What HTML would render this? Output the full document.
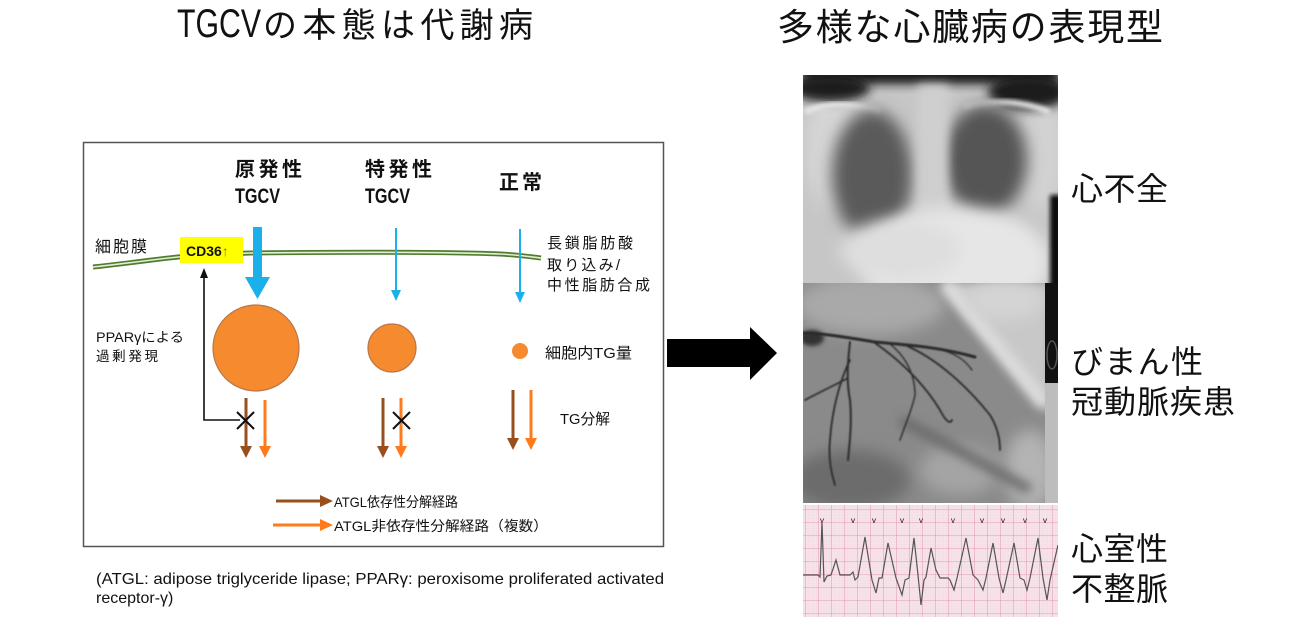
<!DOCTYPE html>
<html><head><meta charset="utf-8">
<style>
html,body{margin:0;padding:0;background:#fff;}
svg{display:block;}
text{font-family:"Liberation Sans","Noto Sans CJK JP",sans-serif;fill:#111;}
.b{font-weight:bold;}
</style></head><body>
<svg width="1300" height="628" viewBox="0 0 1300 628" xmlns="http://www.w3.org/2000/svg">
<defs>
 <filter id="b8" x="-50%" y="-50%" width="200%" height="200%"><feGaussianBlur stdDeviation="8"/></filter>
 <filter id="b5" x="-50%" y="-50%" width="200%" height="200%"><feGaussianBlur stdDeviation="5"/></filter>
 <filter id="b2" x="-50%" y="-50%" width="200%" height="200%"><feGaussianBlur stdDeviation="2"/></filter>
 <filter id="b1" x="-20%" y="-20%" width="140%" height="140%"><feGaussianBlur stdDeviation="0.8"/></filter>
 <clipPath id="cx"><rect x="803" y="75" width="255" height="208"/></clipPath>
 <clipPath id="ca"><rect x="803" y="283" width="255" height="220"/></clipPath>
 <clipPath id="ce"><rect x="803" y="505" width="255" height="112"/></clipPath>
 <pattern id="gmin" x="803" y="505" width="2.6" height="2.6" patternUnits="userSpaceOnUse">
  <path d="M0,0 H2.6 M0,0 V2.6" stroke="#f0cdd9" stroke-width="0.4" fill="none"/>
 </pattern>
 <pattern id="gmaj" x="805" y="509" width="13" height="13" patternUnits="userSpaceOnUse">
  <path d="M0,0 H13 M0,0 V13" stroke="#e29ab4" stroke-width="1" fill="none"/>
 </pattern>
</defs>

<!-- Titles -->
<text font-size="34" y="37"><tspan x="177" font-size="40" textLength="84" lengthAdjust="spacingAndGlyphs">TGCV</tspan><tspan x="263" textLength="270" lengthAdjust="spacing">の本態は代謝病</tspan></text>
<text x="777" y="40" font-size="37" textLength="386" lengthAdjust="spacing">多様な心臓病の表現型</text>

<!-- Left box -->
<rect x="83.5" y="142.5" width="580" height="404" fill="#fff" stroke="#555" stroke-width="1.5"/>

<!-- headings -->
<text class="b" x="235" y="176" font-size="20" textLength="67" lengthAdjust="spacing">原発性</text>
<text class="b" x="235" y="203" font-size="21" textLength="45" lengthAdjust="spacingAndGlyphs">TGCV</text>
<text class="b" x="365" y="176" font-size="20" textLength="67" lengthAdjust="spacing">特発性</text>
<text class="b" x="365" y="203" font-size="21" textLength="45" lengthAdjust="spacingAndGlyphs">TGCV</text>
<text class="b" x="499" y="189" font-size="20" textLength="43" lengthAdjust="spacing">正常</text>

<text x="95" y="252" font-size="16" textLength="52" lengthAdjust="spacing" fill="#222">細胞膜</text>
<text x="547" y="248" font-size="15" textLength="86" lengthAdjust="spacing">長鎖脂肪酸</text>
<text x="547" y="270" font-size="15" textLength="73" lengthAdjust="spacing">取り込み/</text>
<text x="547" y="290" font-size="15" textLength="103" lengthAdjust="spacing">中性脂肪合成</text>

<!-- membrane -->
<path d="M93,267 C140,262 170,257 200,255 L250,253 C350,252 450,252 500,254 C520,255 532,257 541,258" fill="none" stroke="#4f7d30" stroke-width="5"/>
<path d="M93,267 C140,262 170,257 200,255 L250,253 C350,252 450,252 500,254 C520,255 532,257 541,258" fill="none" stroke="#e4edd6" stroke-width="1.6"/>

<!-- CD36 -->
<rect x="180" y="237" width="63" height="26" fill="#ffff00"/>
<text class="b" x="186" y="256" font-size="14">CD36<tspan fill="#b06a10" font-weight="normal">↑</tspan></text>

<!-- blue arrows -->
<polygon points="253,227 262,227 262,277 270,277 257.5,299 245,277 253,277" fill="#1cb0ea"/>
<line x1="396" y1="228" x2="396" y2="292" stroke="#1cb0ea" stroke-width="2"/>
<polygon points="391,290 401,290 396,301" fill="#1cb0ea"/>
<line x1="520" y1="229" x2="520" y2="294" stroke="#1cb0ea" stroke-width="2"/>
<polygon points="515,292 525,292 520,303" fill="#1cb0ea"/>

<!-- feedback line -->
<polyline points="240,420 204,420 204,276" fill="none" stroke="#111" stroke-width="1.6"/>
<polygon points="200,278 208,278 204,268" fill="#111"/>
<text x="96" y="342" font-size="13.5" textLength="88" lengthAdjust="spacingAndGlyphs" fill="#222">PPARγによる</text>
<text x="96" y="361" font-size="13.5" textLength="62" lengthAdjust="spacing" fill="#222">過剰発現</text>

<!-- circles -->
<circle cx="256" cy="348" r="43" fill="#f58a2e" stroke="#b9754a" stroke-width="1.2"/>
<circle cx="392" cy="348" r="24" fill="#f58a2e" stroke="#b9754a" stroke-width="1.2"/>
<circle cx="520" cy="351" r="8" fill="#f58a2e"/>
<text x="545" y="358" font-size="15" textLength="87" lengthAdjust="spacingAndGlyphs">細胞内TG量</text>

<!-- TG arrows -->
<g stroke-width="3">
 <line x1="246" y1="398" x2="246" y2="448" stroke="#97501d"/>
 <line x1="265" y1="400" x2="265" y2="448" stroke="#ff7a1a"/>
 <line x1="383" y1="398" x2="383" y2="448" stroke="#97501d"/>
 <line x1="401" y1="398" x2="401" y2="448" stroke="#ff7a1a"/>
 <line x1="513" y1="390" x2="513" y2="440" stroke="#97501d"/>
 <line x1="531" y1="390" x2="531" y2="440" stroke="#ff7a1a"/>
</g>
<polygon points="240,446 252,446 246,458" fill="#97501d"/>
<polygon points="259,446 271,446 265,458" fill="#ff7a1a"/>
<polygon points="377,446 389,446 383,458" fill="#97501d"/>
<polygon points="395,446 407,446 401,458" fill="#ff7a1a"/>
<polygon points="507,438 519,438 513,450" fill="#97501d"/>
<polygon points="525,438 537,438 531,450" fill="#ff7a1a"/>
<g stroke="#111" stroke-width="2">
 <line x1="237" y1="412" x2="254" y2="429"/><line x1="254" y1="412" x2="237" y2="429"/>
 <line x1="393" y1="412" x2="410" y2="429"/><line x1="410" y1="412" x2="393" y2="429"/>
</g>
<text x="560" y="424" font-size="15" textLength="50" lengthAdjust="spacingAndGlyphs">TG分解</text>

<!-- legend -->
<line x1="276" y1="501" x2="322" y2="501" stroke="#97501d" stroke-width="3"/>
<polygon points="320,495 333,501 320,507" fill="#97501d"/>
<line x1="273" y1="525" x2="322" y2="525" stroke="#ff7a1a" stroke-width="3"/>
<polygon points="320,519 333,525 320,531" fill="#ff7a1a"/>
<text x="334" y="507" font-size="14" textLength="124" lengthAdjust="spacingAndGlyphs">ATGL依存性分解経路</text>
<text x="334" y="531" font-size="14" textLength="214" lengthAdjust="spacingAndGlyphs">ATGL非依存性分解経路（複数）</text>

<!-- footnote -->
<text x="96" y="584" font-size="16" textLength="568" lengthAdjust="spacingAndGlyphs" fill="#333">(ATGL: adipose triglyceride lipase; PPARγ: peroxisome proliferated activated</text>
<text x="96" y="603" font-size="16" fill="#333">receptor-γ)</text>

<!-- Big black arrow -->
<polygon points="667,339 750,339 750,327 777,353 750,380 750,367 667,367" fill="#000"/>

<!-- X-ray -->
<g clip-path="url(#cx)">
 <rect x="803" y="75" width="255" height="208" fill="#c6c6c6"/>
 <ellipse cx="835" cy="150" rx="30" ry="60" fill="#d6d6d6" filter="url(#b8)"/>
 <ellipse cx="1040" cy="150" rx="25" ry="60" fill="#d2d2d2" filter="url(#b8)"/>
 <rect x="803" y="64" width="255" height="20" fill="#151515" filter="url(#b5)"/>
 <ellipse cx="830" cy="88" rx="40" ry="14" fill="#1a1a1a" filter="url(#b5)"/>
 <ellipse cx="1028" cy="92" rx="40" ry="18" fill="#1a1a1a" filter="url(#b5)"/>
 <path d="M805,112 C830,100 860,105 880,112" stroke="#e6e6e6" stroke-width="6" fill="none" filter="url(#b2)"/>
 <path d="M965,108 C995,100 1020,100 1050,112" stroke="#e6e6e6" stroke-width="6" fill="none" filter="url(#b2)"/>
 <ellipse cx="872" cy="175" rx="40" ry="65" fill="#5a5a5a" filter="url(#b8)"/>
 <ellipse cx="985" cy="160" rx="42" ry="55" fill="#555" filter="url(#b8)"/>
 <rect x="918" y="85" width="30" height="130" fill="#cfcfcf" filter="url(#b5)"/>
 <ellipse cx="955" cy="262" rx="95" ry="55" fill="#e6e6e6" filter="url(#b8)"/>
 <ellipse cx="900" cy="250" rx="60" ry="30" fill="#dedede" filter="url(#b8)"/>
 <rect x="1050" y="195" width="12" height="95" fill="#111" filter="url(#b2)"/>
</g>

<!-- Angiogram -->
<g clip-path="url(#ca)">
 <rect x="803" y="283" width="255" height="220" fill="#8a8a8a"/>
 <ellipse cx="870" cy="305" rx="75" ry="30" fill="#a9a9a9" filter="url(#b8)"/>
 <polygon points="940,283 1050,283 1050,415" fill="#c8c8c8" filter="url(#b5)"/>
 <path d="M945,283 L1045,405" stroke="#dedede" stroke-width="14" fill="none" filter="url(#b5)"/>
 <ellipse cx="1005" cy="300" rx="40" ry="20" fill="#d4d4d4" filter="url(#b8)"/>
 <ellipse cx="850" cy="480" rx="60" ry="30" fill="#6c6c6c" filter="url(#b8)"/>
 <ellipse cx="960" cy="470" rx="40" ry="25" fill="#a4a4a4" filter="url(#b8)"/>
 <ellipse cx="1030" cy="470" rx="25" ry="40" fill="#b4b4b4" filter="url(#b8)"/>
 <path d="M900,420 C940,440 980,462 1030,490" stroke="#6a6a6a" stroke-width="10" fill="none" filter="url(#b5)"/>
 <rect x="1045" y="283" width="13" height="100" fill="#111"/>
 <rect x="1045" y="383" width="13" height="120" fill="#bdbdbd"/>
 <ellipse cx="1052" cy="355" rx="5" ry="14" fill="none" stroke="#555" stroke-width="1.5"/>
 <ellipse cx="812" cy="338" rx="12" ry="8" fill="#333" filter="url(#b2)"/>
 <g fill="none" stroke="#2a2a2a" stroke-linecap="round" filter="url(#b1)">
  <path d="M803,333 C830,334 850,338 875,342 C905,345 935,346 975,357" stroke-width="3"/>
  <path d="M850,342 C848,360 846,380 850,400 C852,420 850,440 848,460" stroke-width="2"/>
  <path d="M850,360 C840,380 832,410 830,440 C828,460 832,475 835,485" stroke-width="1.8"/>
  <path d="M848,378 C835,385 820,392 805,400" stroke-width="1.6"/>
  <path d="M875,343 C900,360 925,385 940,410 C945,420 950,425 952,420" stroke-width="1.8"/>
  <path d="M905,345 C940,360 970,390 990,415 C998,428 1000,440 1000,450" stroke-width="1.8"/>
  <path d="M890,344 C910,360 915,380 915,395 C912,410 905,425 900,440" stroke-width="1.4"/>
  <path d="M930,347 C955,352 965,360 972,370" stroke-width="1.3"/>
 </g>
</g>

<!-- ECG -->
<g clip-path="url(#ce)">
 <rect x="803" y="505" width="255" height="112" fill="#f7e4eb"/>
 <rect x="803" y="505" width="255" height="112" fill="url(#gmin)"/>
 <rect x="803" y="505" width="255" height="112" fill="url(#gmaj)"/>
 <g font-size="8" fill="#555">
  <text x="820" y="523">v</text><text x="851" y="523">v</text><text x="872" y="523">v</text>
  <text x="900" y="523">v</text><text x="919" y="523">v</text><text x="951" y="523">v</text>
  <text x="980" y="523">v</text><text x="1001" y="523">v</text><text x="1023" y="523">v</text>
  <text x="1043" y="523">v</text>
 </g>
 <polyline fill="none" stroke="#555" stroke-width="1.2" points="803,575 818,575 820,577 822,522 824,582 827,576 831,575 836,560 840,575 850,575 853,572 855,580 858,577 865,537 872,580 876,593 879,578 882,578 888,543 896,578 902,595 905,580 909,578 914,538 918,575 921,605 924,580 926,577 931,548 936,570 940,578 948,578 950,580 954,590 957,578 966,538 973,575 978,580 983,590 986,578 993,543 999,578 1003,593 1006,580 1014,543 1020,578 1024,580 1027,590 1030,578 1038,538 1043,578 1047,600 1050,580 1058,545"/>
</g>

<!-- right labels -->
<text x="1071" y="200" font-size="32" textLength="97" lengthAdjust="spacing">心不全</text>
<text x="1071" y="373" font-size="32" textLength="132" lengthAdjust="spacing">びまん性</text>
<text x="1071" y="413" font-size="32" textLength="164" lengthAdjust="spacing">冠動脈疾患</text>
<text x="1071" y="560" font-size="32" textLength="97" lengthAdjust="spacing">心室性</text>
<text x="1071" y="600" font-size="32" textLength="97" lengthAdjust="spacing">不整脈</text>
</svg>
</body></html>
